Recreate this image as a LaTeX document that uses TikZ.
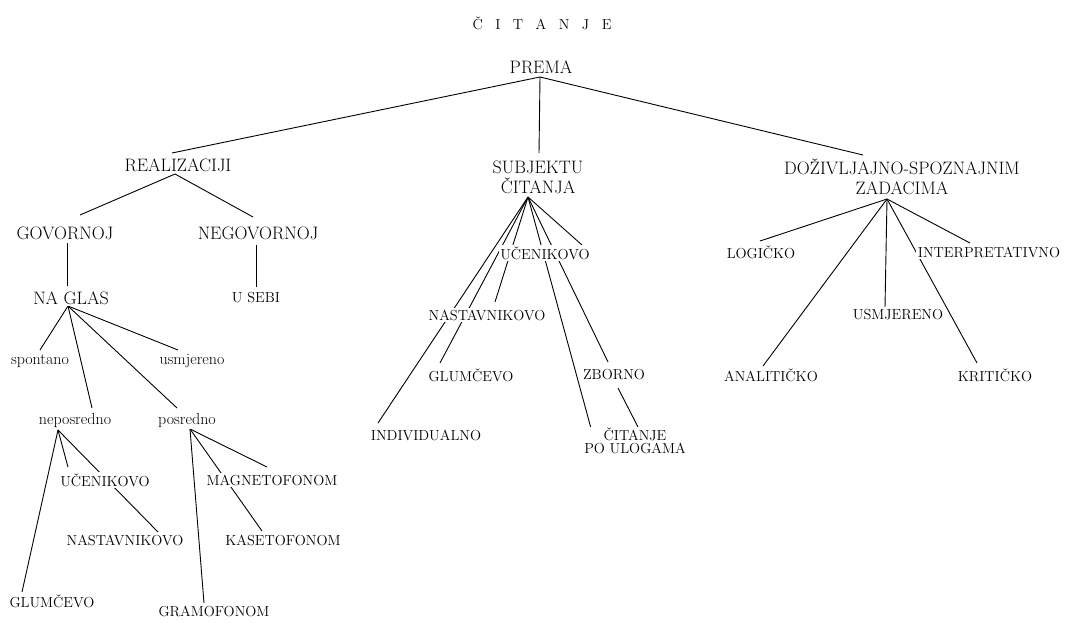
\documentclass[tikz,border=0pt]{standalone}
\usepackage{fontspec}
\usetikzlibrary{backgrounds}
\newcommand\ltsp{\hspace{12.5pt}}
\begin{document}
\begin{tikzpicture}[x=1pt,y=-1pt,
  lbl/.style={fill=white,inner sep=1.5pt,text=black},
  big/.style={lbl,font=\fontsize{18}{20}\selectfont},
  mid/.style={lbl,font=\fontsize{14.5}{13}\selectfont},
  low/.style={lbl,font=\fontsize{16}{18}\selectfont},
  conn/.style={draw=black,line width=0.9pt}]
\path[use as bounding box] (0,0) rectangle (1070,622);

% title and top level
\node[lbl,font=\fontsize{14.5}{16}\selectfont] (title) at (542,23) {Č\ltsp I\ltsp T\ltsp A\ltsp N\ltsp J\ltsp E};
\node[big] (prema) at (541,67) {PREMA};
\node[big] (real) at (178,165) {REALIZACIJI};
\node[big,align=center] (subj) at (538,177) {SUBJEKTU\\ČITANJA};
\node[big,align=center] (doz) at (902,177) {DOŽIVLJAJNO-SPOZNAJNIM\\ZADACIMA};

% left branch
\node[big] (gov) at (65,233) {GOVORNOJ};
\node[big] (neg) at (258,233) {NEGOVORNOJ};
\node[big] (naglas) at (71,298) {NA GLAS};
\node[mid] (usebi) at (256,298) {U SEBI};
\node[low] (spont) at (40,361) {spontano};
\node[low] (usmj1) at (192,361) {usmjereno};
\node[low] (nepos) at (75,420) {neposredno};
\node[low] (posr) at (187,420) {posredno};
\node[mid] (uc1) at (105,480) {UČENIKOVO};
\node[mid] (nast1) at (125,540) {NASTAVNIKOVO};
\node[mid] (glum1) at (52,601) {GLUMČEVO};
\node[mid] (magn) at (272,480) {MAGNETOFONOM};
\node[mid] (kaset) at (283,540) {KASETOFONOM};
\node[mid] (gram) at (214,611) {GRAMOFONOM};

% middle branch
\node[mid] (uc2) at (545,253) {UČENIKOVO};
\node[mid] (nast2) at (487,315) {NASTAVNIKOVO};
\node[mid] (glum2) at (471,375) {GLUMČEVO};
\node[mid] (indiv) at (426,435) {INDIVIDUALNO};
\node[mid] (zborno) at (614,375) {ZBORNO};
\node[mid,align=center] (citanje) at (635,441) {ČITANJE\\PO ULOGAMA};

% right branch
\node[mid] (logic) at (761,252) {LOGIČKO};
\node[mid] (interp) at (989,252) {INTERPRETATIVNO};
\node[mid] (usmj2) at (898,315) {USMJERENO};
\node[mid] (anal) at (771,375) {ANALITIČKO};
\node[mid] (krit) at (995,375) {KRITIČKO};

\begin{pgfonlayer}{background}
\coordinate (premaA) at ([xshift=-1pt,yshift=-10pt]prema.center);
\coordinate (realA) at ([xshift=-3pt,yshift=-9pt]real.center);
\coordinate (naglasA) at ([xshift=-3pt,yshift=-8pt]naglas.center);
\coordinate (nepA) at ([xshift=-17pt,yshift=-10pt]nepos.center);
\coordinate (posA) at ([xshift=3pt,yshift=-9pt]posr.center);
\coordinate (subjA) at ([xshift=-10pt,yshift=-20pt]subj.center);
\coordinate (dozA) at ([xshift=-15pt,yshift=-22pt]doz.center);

\draw[conn] (premaA) -- ([xshift=-6pt,yshift=12pt]real.center);
\draw[conn] (premaA) -- ([xshift=1pt,yshift=24pt]subj.center);
\draw[conn] (premaA) -- ([xshift=-39pt,yshift=22pt]doz.center);

\draw[conn] (realA) -- ([xshift=15pt,yshift=18pt]gov.center);
\draw[conn] (realA) -- ([xshift=-5pt,yshift=16pt]neg.center);
\draw[conn] ([xshift=2pt,yshift=-10pt]gov.center) -- ([xshift=-4pt,yshift=12pt]naglas.center);
\draw[conn] ([xshift=-2pt,yshift=-12pt]neg.center) -- ([yshift=11pt]usebi.center);

\draw[conn] (naglasA) -- ([yshift=11pt]spont.center);
\draw[conn] (naglasA) -- ([xshift=17pt,yshift=12pt]nepos.center);
\draw[conn] (naglasA) -- ([xshift=-10pt,yshift=12pt]posr.center);
\draw[conn] (naglasA) -- ([xshift=-14pt,yshift=11pt]usmj1.center);

\draw[conn] (nepA) -- ([xshift=-30pt,yshift=9pt]glum1.center);
\draw[conn] (nepA) -- ([xshift=-37pt,yshift=13pt]uc1.center);
\draw[conn] (nepA) -- ([xshift=33pt,yshift=8pt]nast1.center);

\draw[conn] (posA) -- ([xshift=-10pt,yshift=8pt]gram.center);
\draw[conn] (posA) -- ([xshift=-5pt,yshift=13pt]magn.center);
\draw[conn] (posA) -- ([xshift=-21pt,yshift=9pt]kaset.center);

\draw[conn] (subjA) -- ([xshift=-48pt,yshift=12pt]indiv.center);
\draw[conn] (subjA) -- ([xshift=-31pt,yshift=12pt]glum2.center);
\draw[conn] (subjA) -- ([xshift=8pt,yshift=13pt]nast2.center);
\draw[conn] (subjA) -- ([xshift=37pt,yshift=8pt]uc2.center);
\draw[conn] (subjA) -- ([xshift=-43pt,yshift=9pt]citanje.center);
\draw[conn] (subjA) -- ([xshift=-6pt,yshift=13pt]zborno.center);
\draw[conn] ([xshift=4pt,yshift=-13pt]zborno.center) -- ([xshift=3pt,yshift=14pt]citanje.center);

\draw[conn] (dozA) -- ([xshift=-1pt,yshift=11pt]logic.center);
\draw[conn] (dozA) -- ([xshift=-19pt,yshift=9pt]interp.center);
\draw[conn] (dozA) -- ([xshift=-8pt,yshift=9pt]anal.center);
\draw[conn] (dozA) -- ([xshift=-13pt,yshift=8pt]usmj2.center);
\draw[conn] (dozA) -- ([xshift=-18pt,yshift=12pt]krit.center);
\end{pgfonlayer}
\end{tikzpicture}
\end{document}
